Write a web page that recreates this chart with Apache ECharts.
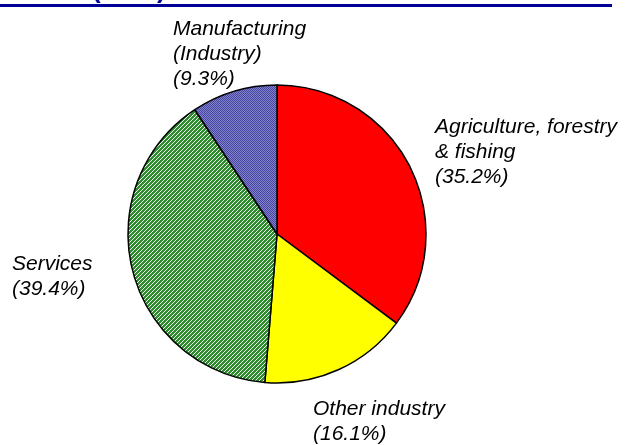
<!DOCTYPE html>
<html>
<head>
<meta charset="utf-8">
<script src="https://cdn.jsdelivr.net/npm/echarts@6/dist/echarts.min.js"></script>
<style>
html,body{margin:0;padding:0;background:#fff;}
#chart{width:629px;height:445px;}
</style>
</head>
<body>
<div id="chart"></div>
<script>
// ---- data ----
const categories = ['Agriculture, forestry\n& fishing', 'Other industry', 'Services', 'Manufacturing\n(Industry)'];
const shares = [35.2, 16.1, 39.4, 9.3];
const titleText = '(GDP)';

// ---- fill patterns ----
function makePattern(size, bg, fg, test) {
  const c = document.createElement('canvas');
  c.width = size; c.height = size;
  const ctx = c.getContext('2d');
  ctx.fillStyle = bg; ctx.fillRect(0, 0, size, size);
  ctx.fillStyle = fg;
  for (let x = 0; x < size; x++) for (let y = 0; y < size; y++) if (test(x, y)) ctx.fillRect(x, y, 1, 1);
  return { image: c, repeat: 'repeat' };
}
const greenHatch = makePattern(4, '#eef8ee', '#2e8b2e', (x, y) => ((x + y) % 4) < 3);
const blueDots = makePattern(2, '#8282cc', '#4646a0', (x, y) => (x + y) % 2 === 0);

const fills = ['#ff0000', '#ffff00', greenHatch, blueDots];
const labelPos = [[435, 115], [313, 397], [12, 252], [173, 17]];

const chart = echarts.init(document.getElementById('chart'), null, { renderer: 'canvas' });
chart.setOption({
  animation: false,
  graphic: [
    { type: 'text', left: 92, top: -22, style: { text: titleText, fill: '#000099', font: 'bold 26px "Liberation Sans", Arial, sans-serif' } },
    { type: 'rect', shape: { x: 0, y: -30, width: 629, height: 30.5 }, style: { fill: 'rgba(255,255,255,0)' } },
    { type: 'line', shape: { x1: 0, y1: 5.5, x2: 612, y2: 5.5 }, style: { stroke: '#000099', lineWidth: 3 } }
  ],
  series: [{
    type: 'pie',
    center: [277, 234],
    radius: 149,
    startAngle: 90,
    clockwise: true,
    avoidLabelOverlap: false,
    itemStyle: { borderColor: '#000', borderWidth: 1.5 },
    emphasis: { disabled: true },
    label: {
      show: true,
      position: 'outside',
      formatter: p => p.name + '\n(' + p.value + '%)',
      fontFamily: '"Liberation Sans", Arial, sans-serif',
      fontStyle: 'italic',
      fontSize: 21,
      lineHeight: 25,
      color: '#000',
      align: 'left'
    },
    labelLine: { show: false },
    labelLayout: function (params) {
      const p = labelPos[params.dataIndex];
      return { x: p[0], y: p[1], align: 'left', verticalAlign: 'top' };
    },
    data: categories.map((name, i) => ({ name: name, value: shares[i], itemStyle: { color: fills[i] } }))
  }]
});
</script>
</body>
</html>
